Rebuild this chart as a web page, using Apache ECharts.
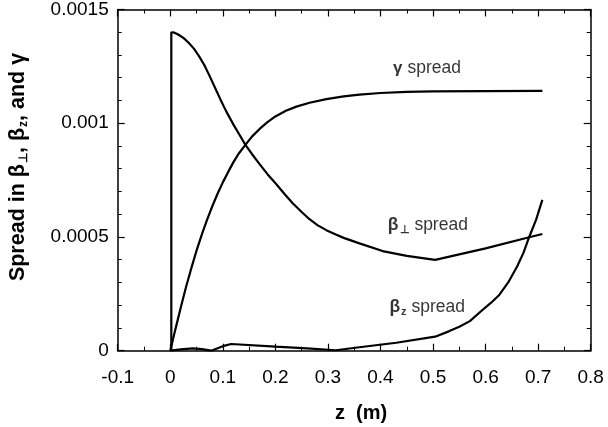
<!DOCTYPE html>
<html>
<head>
<meta charset="utf-8">
<script src="https://cdn.jsdelivr.net/npm/echarts@6/dist/echarts.min.js"></script>
<style>html,body{margin:0;padding:0;background:#fff}#c{width:608px;height:427px}</style>
</head>
<body>
<div id="c"></div>
<script>
// tick labels
const xTicks = [-0.1, 0, 0.1, 0.2, 0.3, 0.4, 0.5, 0.6, 0.7, 0.8];
const yTicks = [0, 0.0005, 0.001, 0.0015];

// β⊥ spread [z, value]
const betaPerp = [
  [0.002, 0], [0.002, 0.0014], [0.008, 0.001398], [0.015, 0.00139], [0.025, 0.001375],
  [0.035, 0.001354], [0.045, 0.001328], [0.055, 0.001294], [0.065, 0.001255],
  [0.075, 0.001207], [0.085, 0.001157], [0.095, 0.001107], [0.107, 0.00105],
  [0.12, 0.000995], [0.132, 0.000948], [0.143, 0.000905], [0.155, 0.000866],
  [0.17, 0.00082], [0.185, 0.000776], [0.2015, 0.000733], [0.217, 0.00069],
  [0.233, 0.000648], [0.25, 0.00061], [0.265, 0.000578], [0.28, 0.000552],
  [0.297, 0.00053], [0.315, 0.000511], [0.33, 0.000496], [0.36, 0.000472],
  [0.404, 0.000438], [0.45, 0.000417], [0.504, 0.000399], [0.6, 0.00045],
  [0.683, 0.000499], [0.708, 0.000513]
];
// γ spread
const gammaSpread = [
  [0, 0], [0.01, 0.000096], [0.02, 0.00019], [0.03, 0.00028], [0.04, 0.000362],
  [0.05, 0.00044], [0.06, 0.00051], [0.07, 0.000575], [0.08, 0.000635],
  [0.09, 0.00069], [0.1, 0.00074], [0.11, 0.000785], [0.12, 0.000828],
  [0.13, 0.000866], [0.143, 0.000905], [0.155, 0.00094], [0.17, 0.000975],
  [0.185, 0.001005], [0.2, 0.00103], [0.22, 0.001055], [0.24, 0.001073],
  [0.265, 0.00109], [0.297, 0.001106], [0.33, 0.001118], [0.36, 0.001126],
  [0.4, 0.001133], [0.45, 0.001138], [0.5, 0.00114], [0.6, 0.001141], [0.708, 0.001142]
];
// βz spread
const betaZ = [
  [0, 0], [0.02, 0.000006], [0.043, 0.0000105], [0.06, 0.000007], [0.078, 0],
  [0.1, 0.00002], [0.116, 0.0000295], [0.2, 0.0000176], [0.26, 0.00001],
  [0.315, 0.000002], [0.36, 0.0000152], [0.43, 0.000035], [0.504, 0.0000616],
  [0.53, 0.000085], [0.55, 0.000105], [0.57, 0.00013], [0.594, 0.000179],
  [0.61, 0.00021], [0.626, 0.000245], [0.643, 0.0003], [0.66, 0.00037],
  [0.672, 0.00043], [0.683, 0.0005], [0.696, 0.000575], [0.708, 0.000663]
];
// annotation labels [z, value, text]
const annotations = [
  [0.424, 0.001243, '{g|γ} spread'],
  [0.414, 0.000552, '{b|β}{s|⊥} spread'],
  [0.417, 0.000193, '{b|β}{s|z} spread']
];

const FONT = '"Liberation Sans", Arial, Helvetica, sans-serif';
const axisCommon = {
  type: 'value', min: -0.1, max: 0.8, interval: 0.1,
  axisLine: {show: true, onZero: false, lineStyle: {color: '#000', width: 1.5}},
  axisTick: {show: true, inside: true, length: 7, lineStyle: {color: '#000', width: 1.2}},
  minorTick: {show: true, splitNumber: 2, length: 4, lineStyle: {color: '#000', width: 1}},
  splitLine: {show: false}, minorSplitLine: {show: false}
};
const yCommon = {
  type: 'value', min: 0, max: 0.0015, interval: 0.0005,
  axisLine: {show: true, onZero: false, lineStyle: {color: '#000', width: 1.5}},
  axisTick: {show: true, inside: true, length: 7, lineStyle: {color: '#000', width: 1.2}},
  minorTick: {show: true, splitNumber: 5, length: 4, lineStyle: {color: '#000', width: 1}},
  splitLine: {show: false}, minorSplitLine: {show: false}
};
const fmtX = v => {
  const r = Math.round(v * 10) / 10;
  return xTicks.includes(r) ? String(r) : '';
};
const fmtY = v => {
  const m = yTicks.find(t => Math.abs(t - v) < 1e-9);
  return m === undefined ? '' : String(m);
};

const lineStyle = {color: '#000', width: 2.2};
const mk = (name, data) => ({
  type: 'line', name, data, showSymbol: false, symbol: 'none', smooth: false,
  xAxisIndex: 0, yAxisIndex: 0, lineStyle, z: 3, animation: false
});

const chart = echarts.init(document.getElementById('c'), null, {renderer: 'canvas'});
chart.setOption({
  animation: false,
  backgroundColor: '#fff',
  grid: {left: 117.7, right: 17.3, top: 9.5, bottom: 76.3, containLabel: false},
  xAxis: [
    Object.assign({}, axisCommon, {position: 'bottom',
      axisLabel: {show: true, formatter: fmtX, margin: 18, color: '#000', fontSize: 19, fontFamily: FONT}}),
    Object.assign({}, axisCommon, {position: 'top', axisLabel: {show: false}})
  ],
  yAxis: [
    Object.assign({}, yCommon, {position: 'left',
      axisLabel: {show: true, formatter: fmtY, margin: 9, color: '#000', fontSize: 19, fontFamily: FONT}}),
    Object.assign({}, yCommon, {position: 'right', axisLabel: {show: false}})
  ],
  series: [
    mk('beta_perp', betaPerp),
    mk('gamma', gammaSpread),
    mk('beta_z', betaZ),
    {
      type: 'scatter', symbolSize: 0, animation: false, silent: true,
      data: annotations.map(a => ({value: [a[0], a[1]], label: {formatter: a[2]}})),
      label: {
        show: true, position: 'right', distance: 0, color: '#000',
        fontFamily: FONT, fontSize: 17.5,
        rich: {
          g: {fontSize: 17, fontFamily: FONT, color: '#000', fontWeight: 'bold'},
          b: {fontSize: 17.5, fontFamily: FONT, color: '#000', fontWeight: 'bold'},
          s: {fontSize: 11, fontFamily: FONT, color: '#000', fontWeight: 'bold', padding: [10, 0, 0, 1]}
        }
      }
    }
  ],
  graphic: [
    {
      type: 'text', x: 361, y: 413,
      style: {text: 'z  (m)', font: 'bold 20px ' + FONT, fill: '#000', align: 'center', verticalAlign: 'middle'}
    },
    {
      type: 'text', x: 18, y: 167, rotation: Math.PI / 2,
      style: {
        text: 'Spread in {b|β}{s|⊥}, {b|β}{s|z}, and γ',
        font: 'bold 21.5px ' + FONT, fill: '#000', align: 'center', verticalAlign: 'middle',
        rich: {
          b: {font: 'bold 21.5px ' + FONT, fill: '#000'},
          s: {font: 'bold 12px ' + FONT, fill: '#000', padding: [12, 0, 0, 1]}
        }
      }
    }
  ]
});
</script>
</body>
</html>
